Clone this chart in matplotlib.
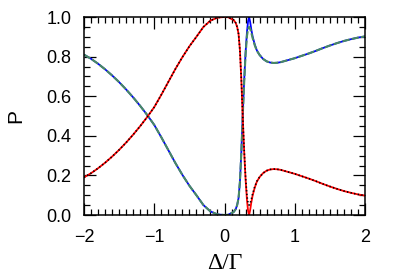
import matplotlib
matplotlib.use("Agg")
import matplotlib.pyplot as plt
from matplotlib.ticker import MultipleLocator, FormatStrFormatter

# detuning values
x = [-2.0, -1.9, -1.8, -1.7, -1.6, -1.5, -1.4, -1.3, -1.2, -1.1, -1.0, -0.9, -0.8,
     -0.7, -0.6, -0.5, -0.4, -0.3, -0.2, -0.1, 0.0, 0.05, 0.1, 0.13, 0.16, 0.18,
     0.20, 0.22, 0.24, 0.26, 0.28, 0.30, 0.32, 0.335, 0.35, 0.365, 0.38, 0.40,
     0.43, 0.46, 0.50, 0.55, 0.60, 0.65, 0.70, 0.75, 0.80, 0.90, 1.00, 1.10,
     1.20, 1.30, 1.40, 1.50, 1.60, 1.70, 1.80, 1.90, 2.00]

# red solid curve
p_red = [0.190, 0.211, 0.236, 0.264, 0.295, 0.329, 0.366, 0.406, 0.449, 0.495,
         0.545, 0.607, 0.672, 0.737, 0.797, 0.852, 0.900, 0.950, 0.982, 0.997,
         1.000, 0.999, 0.990, 0.985, 0.970, 0.950, 0.915, 0.830, 0.680, 0.490,
         0.320, 0.180, 0.075, 0.022, 0.000, 0.025, 0.060, 0.098, 0.138, 0.168,
         0.192, 0.212, 0.224, 0.230, 0.232, 0.231, 0.228, 0.218, 0.208, 0.196,
         0.184, 0.171, 0.157, 0.144, 0.132, 0.121, 0.112, 0.104, 0.098]

# black dotted curve
p_black = [0.190, 0.211, 0.236, 0.264, 0.295, 0.329, 0.366, 0.406, 0.449, 0.495,
           0.545, 0.607, 0.672, 0.737, 0.797, 0.852, 0.900, 0.950, 0.982, 0.997,
           1.000, 0.999, 0.990, 0.985, 0.970, 0.950, 0.915, 0.830, 0.680, 0.495,
           0.330, 0.190, 0.095, 0.062, 0.050, 0.058, 0.077, 0.106, 0.142, 0.170,
           0.192, 0.212, 0.224, 0.230, 0.232, 0.231, 0.228, 0.218, 0.208, 0.196,
           0.184, 0.171, 0.157, 0.144, 0.132, 0.121, 0.112, 0.104, 0.098]

# blue solid curve
p_blue = [0.810, 0.789, 0.764, 0.736, 0.705, 0.671, 0.634, 0.594, 0.551, 0.505,
          0.455, 0.393, 0.328, 0.263, 0.203, 0.148, 0.100, 0.050, 0.018, 0.003,
          0.000, 0.001, 0.010, 0.015, 0.030, 0.050, 0.085, 0.170, 0.320, 0.510,
          0.680, 0.820, 0.925, 0.978, 1.000, 0.975, 0.940, 0.902, 0.862, 0.832,
          0.808, 0.788, 0.776, 0.770, 0.768, 0.769, 0.772, 0.782, 0.792, 0.804,
          0.816, 0.829, 0.843, 0.856, 0.868, 0.879, 0.888, 0.896, 0.902]

# green dashed curve
p_green = [0.810, 0.789, 0.764, 0.736, 0.705, 0.671, 0.634, 0.594, 0.551, 0.505,
           0.455, 0.393, 0.328, 0.263, 0.203, 0.148, 0.100, 0.050, 0.018, 0.003,
           0.000, 0.001, 0.010, 0.015, 0.030, 0.050, 0.085, 0.170, 0.320, 0.505,
           0.670, 0.810, 0.905, 0.938, 0.950, 0.942, 0.923, 0.894, 0.858, 0.830,
           0.808, 0.788, 0.776, 0.770, 0.768, 0.769, 0.772, 0.782, 0.792, 0.804,
           0.816, 0.829, 0.843, 0.856, 0.868, 0.879, 0.888, 0.896, 0.902]

yticks = [0.0, 0.2, 0.4, 0.6, 0.8, 1.0]
xticks = [-2, -1, 0, 1, 2]

plt.rcParams['font.family'] = ['Liberation Sans', 'DejaVu Sans']

fig = plt.figure(figsize=(4.0, 2.78), dpi=100)
ax = fig.add_axes([0.21, 0.2266, 0.7025, 0.7122])

ax.plot(x, p_blue, color='#0000ff', lw=1.3, solid_capstyle='butt')
ax.plot(x, p_green, color='#4a8a62', lw=1.5, dashes=(3.5, 1.0))
ax.plot(x, p_red, color='#ff0000', lw=1.3)
ax.plot(x, p_black, color='black', lw=1.2, linestyle=(0, (0.8, 1.4)))

ax.set_xlim(-2, 2)
ax.set_ylim(0, 1)
ax.set_xticks(xticks)
ax.set_yticks(yticks)
ax.yaxis.set_major_formatter(FormatStrFormatter('%.1f'))
ax.xaxis.set_minor_locator(MultipleLocator(0.1))
ax.yaxis.set_minor_locator(MultipleLocator(0.05))
ax.tick_params(which='both', direction='in', top=True, right=True, width=0.9)
ax.tick_params(which='major', length=8.5, labelsize=13)
ax.tick_params(axis='x', which='major', pad=10)
ax.tick_params(axis='y', which='major', pad=9)
ax.tick_params(which='minor', length=4.5)
for s in ax.spines.values():
    s.set_linewidth(1.1)

ax.set_ylabel('P', fontsize=15, labelpad=15)
ax.set_xlabel('Δ/Γ', fontsize=17, family=['Liberation Serif', 'DejaVu Serif'], labelpad=5)

fig.savefig('out.png', dpi=100)
